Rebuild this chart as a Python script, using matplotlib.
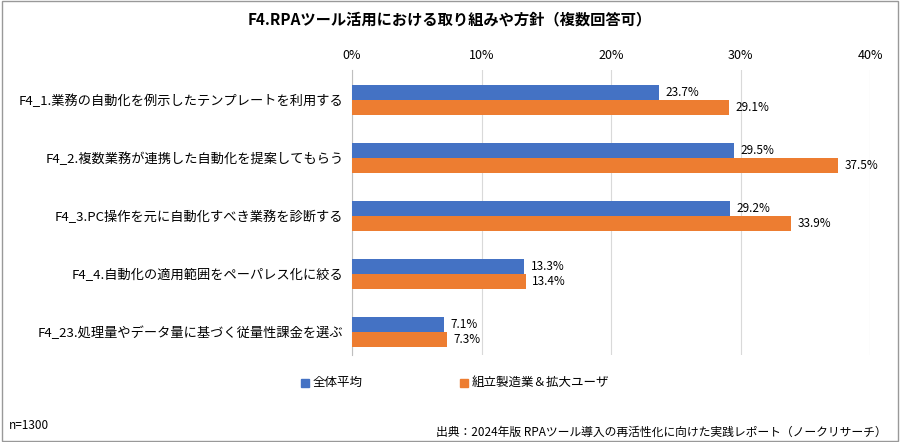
import numpy as np
import matplotlib.pyplot as plt
from matplotlib.patches import Rectangle

plt.rcParams['font.family'] = ['Noto Sans CJK JP', 'DejaVu Sans']

categories = [
    'F4_1.業務の自動化を例示したテンプレートを利用する',
    'F4_2.複数業務が連携した自動化を提案してもらう',
    'F4_3.PC操作を元に自動化すべき業務を診断する',
    'F4_4.自動化の適用範囲をペーパレス化に絞る',
    'F4_23.処理量やデータ量に基づく従量性課金を選ぶ',
]
avg_all = [23.7, 29.5, 29.2, 13.3, 7.1]
avg_mfg = [29.1, 37.5, 33.9, 13.4, 7.3]
series_names = ['全体平均', '組立製造業＆拡大ユーザ']
ticks = [0, 10, 20, 30, 40]

blue = '#4472C4'
orange = '#ED7D31'

fig = plt.figure(figsize=(9, 4.42), dpi=100)
fig.patches.append(Rectangle((0.002, 0.002), 0.996, 0.996, transform=fig.transFigure,
                             fill=False, edgecolor='#999999', linewidth=1))
ax = fig.add_axes([0.391, 0.197, 0.576, 0.645])

y = np.arange(len(categories))
h = 0.26
ax.barh(y - h / 2, avg_all, height=h, color=blue, zorder=3)
ax.barh(y + h / 2, avg_mfg, height=h, color=orange, zorder=3)
for i in range(len(categories)):
    ax.text(avg_all[i] + 0.5, y[i] - h / 2, f'{avg_all[i]:.1f}%', va='center', fontsize=8.5)
    ax.text(avg_mfg[i] + 0.5, y[i] + h / 2, f'{avg_mfg[i]:.1f}%', va='center', fontsize=8.5)

ax.set_xlim(0, 40)
ax.set_ylim(4.4, -0.52)
ax.set_xticks(ticks)
ax.set_xticklabels([f'{t}%' for t in ticks], fontsize=9)
ax.xaxis.tick_top()
ax.set_yticks(y)
ax.set_yticklabels(categories, fontsize=9.5)
ax.tick_params(length=0, pad=6)
ax.grid(axis='x', color='#d9d9d9', linewidth=0.8, zorder=0)
for s in ['top', 'right', 'bottom']:
    ax.spines[s].set_visible(False)
ax.spines['left'].set_color('#bfbfbf')

fig.text(0.5, 0.955, 'F4.RPAツール活用における取り組みや方針（複数回答可）',
         ha='center', va='center', fontsize=11, fontweight='bold')

# legend
fig.patches.append(Rectangle((0.334, 0.125), 0.009, 0.018, transform=fig.transFigure, color=blue))
fig.text(0.347, 0.134, series_names[0], va='center', fontsize=9)
fig.patches.append(Rectangle((0.511, 0.125), 0.009, 0.018, transform=fig.transFigure, color=orange))
fig.text(0.524, 0.134, series_names[1], va='center', fontsize=9)

fig.text(0.01, 0.038, 'n=1300', fontsize=8.5, va='center')
fig.text(0.985, 0.022, '出典：2024年版 RPAツール導入の再活性化に向けた実践レポート（ノークリサーチ）',
         ha='right', va='center', fontsize=8.5)

fig.savefig('out.png')
